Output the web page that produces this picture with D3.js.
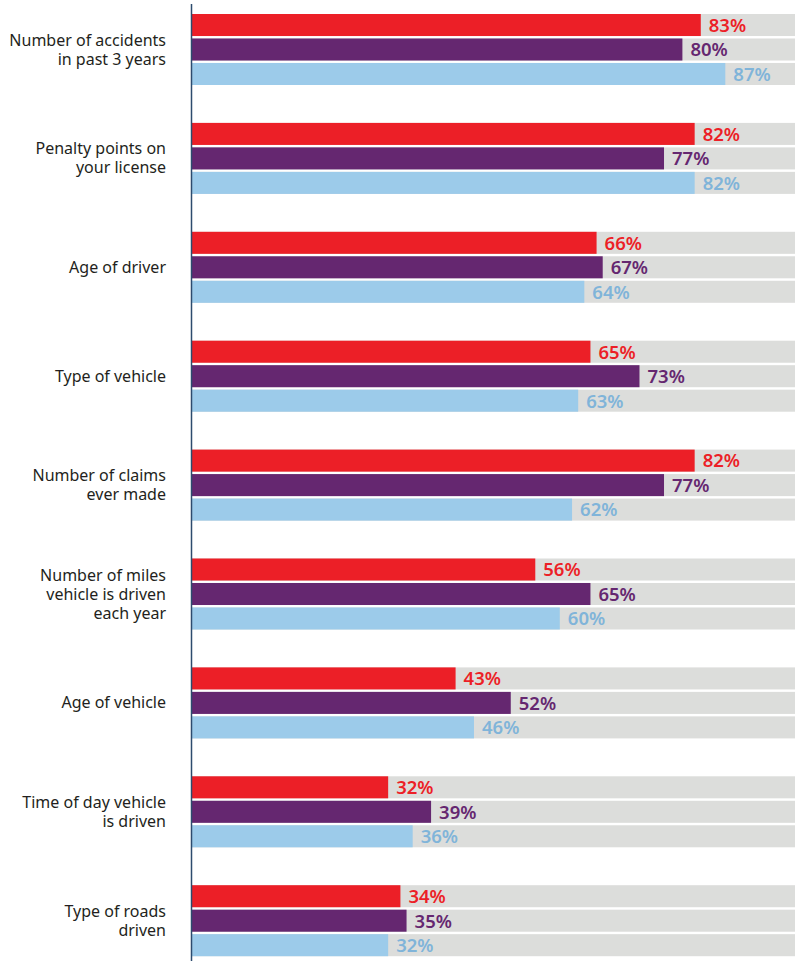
<!DOCTYPE html>
<html>
<head>
<meta charset="utf-8">
<script src="https://cdn.jsdelivr.net/npm/d3@7"></script>
<style>
  html, body { margin: 0; padding: 0; background: #fff; }
  svg { display: block; }
</style>
</head>
<body>
<svg id="chart" width="795" height="961"></svg>
<script>
// Rating factors (each label may wrap onto several lines)
const categories = [
  ["Number of accidents", "in past 3 years"],
  ["Penalty points on", "your license"],
  ["Age of driver"],
  ["Type of vehicle"],
  ["Number of claims", "ever made"],
  ["Number of miles", "vehicle is driven", "each year"],
  ["Age of vehicle"],
  ["Time of day vehicle", "is driven"],
  ["Type of roads", "driven"]
];

// Percentages per series, in category order
const seriesRed    = [83, 82, 66, 65, 82, 56, 43, 32, 34];
const seriesPurple = [80, 77, 67, 73, 77, 65, 52, 39, 35];
const seriesBlue   = [87, 82, 64, 63, 62, 60, 46, 36, 32];

const seriesKeys = ["red", "purple", "blue"];
const barColors   = { red: "#ec1f27", purple: "#652770", blue: "#9ccbea" };
const labelColors = { red: "#ec1f27", purple: "#652770", blue: "#80b4d9" };
const seriesValues = { red: seriesRed, purple: seriesPurple, blue: seriesBlue };

const svg = d3.select("#chart");
const W = 795, H = 961;
const axisX = 192;

const x = d3.scaleLinear().domain([0, 100]).range([axisX, 805]);

const y = d3.scaleBand()
  .domain(d3.range(categories.length))
  .range([14, 956.2])
  .paddingInner(0.348)
  .paddingOuter(0);

const ySub = d3.scaleBand()
  .domain(seriesKeys)
  .range([0, y.bandwidth()])
  .paddingInner(0.1)
  .paddingOuter(0);

const groups = svg.selectAll("g.group")
  .data(categories.map((c, i) => ({ label: c, i })))
  .join("g")
  .attr("class", "group")
  .attr("transform", d => `translate(0,${y(d.i)})`);

// Grey track behind every bar
groups.selectAll("rect.track")
  .data(d => seriesKeys.map(k => ({ k, i: d.i })))
  .join("rect")
  .attr("class", "track")
  .attr("x", x(0))
  .attr("y", d => ySub(d.k))
  .attr("width", x(100) - x(0))
  .attr("height", ySub.bandwidth())
  .attr("fill", "#dcdddb");

// Value bars
groups.selectAll("rect.bar")
  .data(d => seriesKeys.map(k => ({ k, v: seriesValues[k][d.i] })))
  .join("rect")
  .attr("class", "bar")
  .attr("x", x(0))
  .attr("y", d => ySub(d.k))
  .attr("width", d => x(d.v) - x(0))
  .attr("height", ySub.bandwidth())
  .attr("fill", d => barColors[d.k]);

// Value labels
groups.selectAll("text.value")
  .data(d => seriesKeys.map(k => ({ k, v: seriesValues[k][d.i] })))
  .join("text")
  .attr("class", "value")
  .attr("x", d => x(d.v) + 8)
  .attr("y", d => ySub(d.k) + ySub.bandwidth() / 2)
  .attr("dy", "0.37em")
  .attr("font-family", "'Noto Sans', sans-serif")
  .attr("font-size", 18.5)
  .attr("font-weight", 600)
  .attr("fill", d => labelColors[d.k])
  .text(d => d.v + "%");

// Category labels, right-aligned and vertically centred on the group
const lineH = 19;
groups.append("text")
  .attr("class", "cat")
  .attr("text-anchor", "end")
  .attr("font-family", "'Noto Sans', sans-serif")
  .attr("font-size", 16)
  .attr("fill", "#231f20")
  .each(function(d) {
    const t = d3.select(this);
    const n = d.label.length;
    const cy = y.bandwidth() / 2;
    d.label.forEach((line, j) => {
      t.append("tspan")
        .attr("x", 166)
        .attr("y", cy + (j - (n - 1) / 2) * lineH)
        .attr("dy", "0.35em")
        .text(line);
    });
  });

// Vertical baseline
svg.append("line")
  .attr("x1", axisX - 0.5).attr("x2", axisX - 0.5)
  .attr("y1", 4).attr("y2", H)
  .attr("stroke", "#2d4b6e")
  .attr("stroke-width", 1.5);
</script>
</body>
</html>
